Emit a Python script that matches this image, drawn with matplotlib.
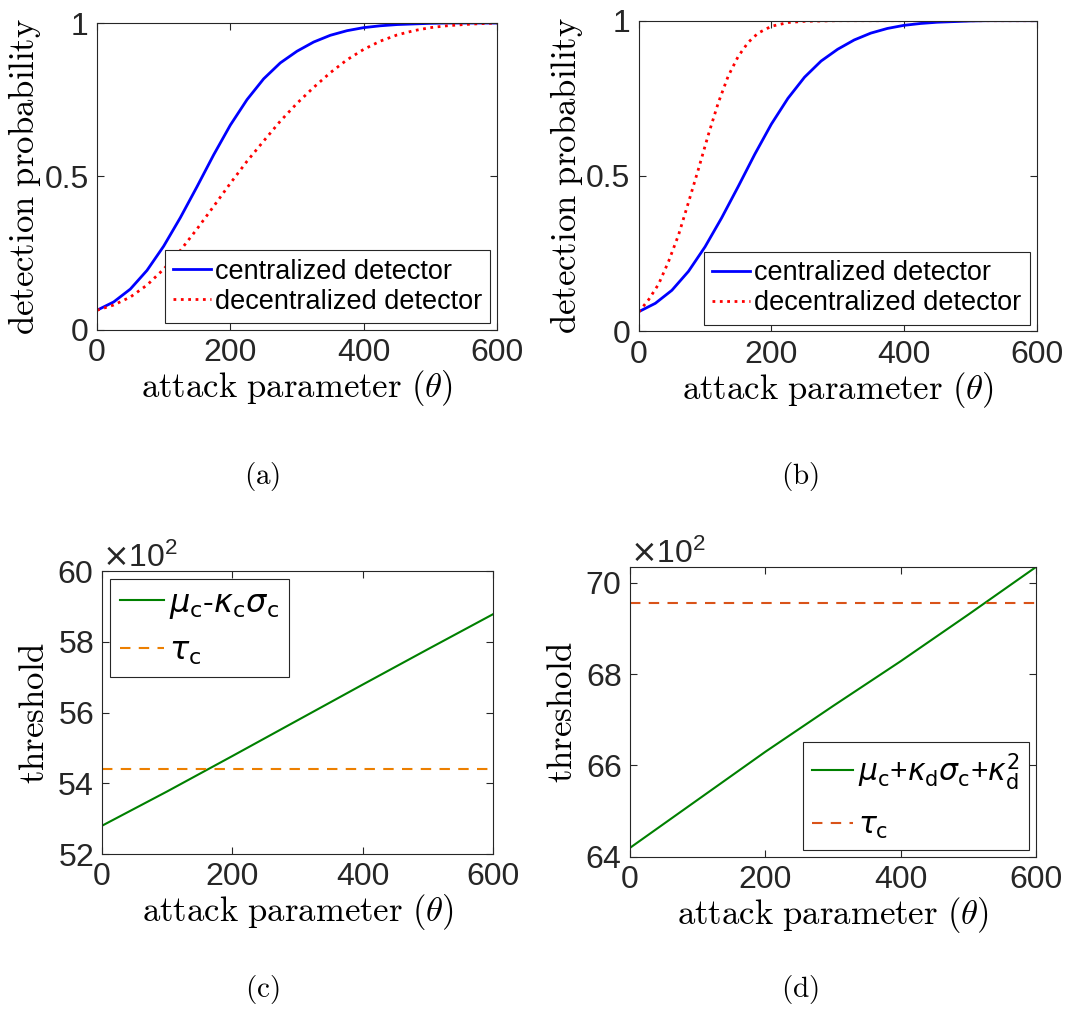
import matplotlib
import matplotlib.pyplot as plt
from matplotlib.ticker import ScalarFormatter

matplotlib.use("Agg")

plt.rcParams["font.family"] = ["Liberation Sans", "DejaVu Sans"]
plt.rcParams["mathtext.fontset"] = "cm"

# detection probability curves
theta = [0, 25, 50, 75, 100, 125, 150, 175, 200, 225, 250, 275, 300,
         325, 350, 375, 400, 425, 450, 475, 500, 525, 550, 575, 600]
p_central = [0.063, 0.090, 0.132, 0.193, 0.272, 0.365, 0.466, 0.570, 0.667,
             0.750, 0.818, 0.870, 0.908, 0.938, 0.960, 0.975, 0.985, 0.991,
             0.995, 0.997, 0.999, 1.0, 1.0, 1.0, 1.0]
p_decent_a = [0.063, 0.080, 0.106, 0.145, 0.197, 0.258, 0.328, 0.402, 0.477,
              0.549, 0.615, 0.680, 0.738, 0.790, 0.838, 0.880, 0.914, 0.941,
              0.961, 0.975, 0.985, 0.991, 0.995, 0.998, 1.0]

theta_b = [0, 15, 30, 45, 60, 75, 90, 105, 120, 135, 150, 165, 180, 200,
           225, 250, 275, 300, 350, 400, 450, 500, 550, 600]
p_decent_b = [0.062, 0.102, 0.152, 0.225, 0.310, 0.415, 0.522, 0.633, 0.736,
              0.822, 0.885, 0.930, 0.960, 0.982, 0.994, 0.998, 0.999, 1.0,
              1.0, 1.0, 1.0, 1.0, 1.0, 1.0]

# thresholds
theta_thr = [0, 100, 200, 300, 400, 500, 600]
thr_c = [5280, 5377, 5477, 5578, 5679, 5779, 5878]
tau_c_left = 5439
thr_d = [6420, 6525, 6630, 6730, 6828, 6930, 7034]
tau_c_right = 6955

TICK_COLOR = "#262626"
XLABEL = r"$\mathrm{attack\ parameter\ }(\theta)$"


def style_axes(ax):
    ax.tick_params(direction="in", top=True, right=True, length=5, width=0.8,
                   labelsize=23, colors=TICK_COLOR, pad=6)
    for spine in ax.spines.values():
        spine.set_color(TICK_COLOR)
        spine.set_linewidth(0.8)
    ax.set_xlim(0, 600)
    ax.set_xticks([0, 200, 400, 600])
    ax.set_xlabel(XLABEL, fontsize=25, labelpad=0, color="black")


def add_legend(ax, loc, size, spacing):
    leg = ax.legend(loc=loc, fontsize=size, frameon=True, fancybox=False,
                    framealpha=1, edgecolor=TICK_COLOR, handlelength=1.4,
                    handletextpad=0.15, labelspacing=spacing, borderpad=0.3,
                    borderaxespad=0.25)
    leg.get_frame().set_linewidth(0.8)
    for t in leg.get_texts():
        t.set_math_fontfamily("dejavusans")
    return leg


fig = plt.figure(figsize=(10.66, 10.19), dpi=100)

# (a)
ax = fig.add_axes([0.0910, 0.6766, 0.3752, 0.3008])
ax.plot(theta, p_central, color="blue", lw=2.0, label="centralized detector")
ax.plot(theta, p_decent_a, color="red", lw=2.0, ls=":", label="decentralized detector")
style_axes(ax)
ax.set_ylim(0, 1)
ax.set_yticks([0, 0.5, 1])
ax.set_yticklabels(["0", "0.5", "1"])
ax.set_ylabel(r"$\mathrm{detection\ probability}$", fontsize=25, labelpad=1)
add_legend(ax, "lower right", 19.5, 0.15)

# (b)
ax = fig.add_axes([0.5992, 0.6749, 0.3732, 0.3048])
ax.plot(theta, p_central, color="blue", lw=2.0, label="centralized detector")
ax.plot(theta_b, p_decent_b, color="red", lw=2.0, ls=":", label="decentralized detector")
style_axes(ax)
ax.set_ylim(0, 1)
ax.set_yticks([0, 0.5, 1])
ax.set_yticklabels(["0", "0.5", "1"])
ax.set_ylabel(r"$\mathrm{detection\ probability}$", fontsize=25, labelpad=1)
add_legend(ax, "lower right", 19.5, 0.15)

# (c)
ax = fig.add_axes([0.0957, 0.1619, 0.3668, 0.2777])
ax.plot(theta_thr, thr_c, color="#008000", lw=1.5,
        label=r"$\mu_\mathrm{c}$-$\kappa_\mathrm{c}\sigma_\mathrm{c}$")
ax.plot([0, 600], [tau_c_left, tau_c_left], color="#EC7F00", lw=1.5,
        ls=(0, (5, 4)), label=r"$\tau_\mathrm{c}$")
style_axes(ax)
ax.set_ylim(5200, 6000)
ax.set_yticks([5200, 5400, 5600, 5800, 6000])
ax.set_ylabel(r"$\mathrm{threshold}$", fontsize=25, labelpad=4)
add_legend(ax, "upper left", 23, 0.5)

# (d)
ax = fig.add_axes([0.5910, 0.1590, 0.3809, 0.2846])
ax.plot(theta_thr, thr_d, color="#008000", lw=1.5,
        label=r"$\mu_\mathrm{c}$+$\kappa_\mathrm{d}\sigma_\mathrm{c}$+$\kappa_\mathrm{d}^2$")
ax.plot([0, 600], [tau_c_right, tau_c_right], color="#D95319", lw=1.5,
        ls=(0, (5, 4)), label=r"$\tau_\mathrm{c}$")
style_axes(ax)
ax.set_ylim(6400, 7034)
ax.set_yticks([6400, 6600, 6800, 7000])
ax.set_ylabel(r"$\mathrm{threshold}$", fontsize=25, labelpad=4)
add_legend(ax, "lower right", 21.5, 0.65)

for a in fig.axes[2:]:
    fmt = ScalarFormatter(useMathText=True, useOffset=False)
    fmt.set_powerlimits((2, 2))
    a.yaxis.set_major_formatter(fmt)
    off = a.yaxis.get_offset_text()
    off.set_fontsize(23)
    off.set_color(TICK_COLOR)
    off.set_math_fontfamily("dejavusans")

for label, x, y in [("(a)", 262, 477), ("(b)", 800, 477),
                    ("(c)", 262, 990), ("(d)", 800, 990)]:
    fig.text(x / 1066, 1 - y / 1019, r"$\mathrm{%s}$" % label, fontsize=21,
             ha="center", va="center")

fig.savefig("out.png", dpi=100)
